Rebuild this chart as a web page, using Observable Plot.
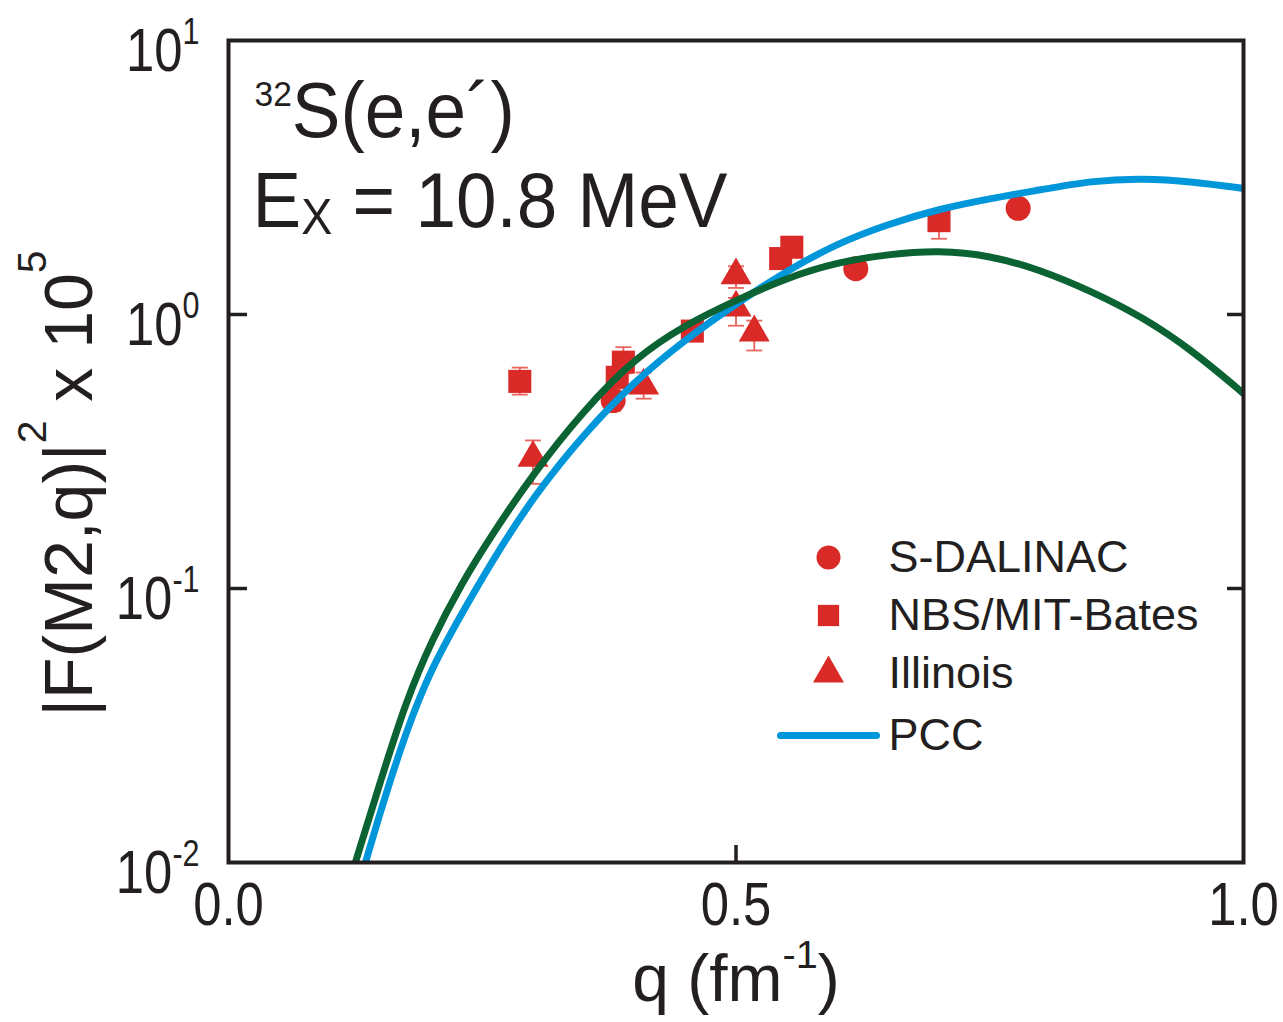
<!DOCTYPE html>
<html>
<head>
<meta charset="utf-8">
<script src="https://cdn.jsdelivr.net/npm/d3@7"></script>
<script src="https://cdn.jsdelivr.net/npm/@observablehq/plot@0.6"></script>
<style>
  html, body { margin: 0; padding: 0; background: #fff; }
  svg { display: block; }
  text { white-space: pre; }
</style>
</head>
<body>
<div id="chart"></div>
<script>
// ---------- data ----------
// S-DALINAC (circles)
const sdalQ  = [0.379, 0.618, 0.778];
const sdalY  = [0.485, 1.47, 2.44];
const sdalLo = [0.445, 1.40, 2.35];
const sdalHi = [0.530, 1.55, 2.55];
// NBS/MIT-Bates (squares)
const nbsQ  = [0.287, 0.383, 0.389, 0.457, 0.544, 0.555, 0.700];
const nbsY  = [0.57, 0.59, 0.67, 0.87, 1.60, 1.76, 2.20];
const nbsLo = [0.51, 0.54, 0.61, 0.82, 1.50, 1.66, 1.89];
const nbsHi = [0.64, 0.64, 0.76, 0.92, 1.70, 1.85, 2.35];
// Illinois (triangles)
const illQ  = [0.300, 0.409, 0.500, 0.500, 0.518];
const illY  = [0.30, 0.55, 1.39, 1.06, 0.86];
const illLo = [0.241, 0.493, 1.25, 0.91, 0.739];
const illHi = [0.347, 0.614, 1.50, 1.15, 0.95];
// PCC calculation (blue)
const pccQ = [0.135, 0.15, 0.175, 0.2, 0.23, 0.26, 0.3, 0.35, 0.4, 0.45, 0.5, 0.55, 0.6, 0.65, 0.7, 0.75, 0.8, 0.85, 0.9, 0.95, 1.0];
const pccY = [0.0100, 0.0155, 0.0302, 0.0513, 0.0813, 0.1265, 0.2158, 0.3664, 0.5702, 0.811, 1.094, 1.445, 1.820, 2.138, 2.427, 2.649, 2.851, 3.076, 3.141, 3.055, 2.884];
// second calculation (green, not in legend)
const altQ = [0.125, 0.15, 0.175, 0.2, 0.23, 0.26, 0.3, 0.35, 0.4, 0.45, 0.5, 0.55, 0.6, 0.65, 0.7, 0.75, 0.8, 0.85, 0.9, 0.95, 1.0];
const altY = [0.0100, 0.01995, 0.0389, 0.0646, 0.105, 0.158, 0.262, 0.447, 0.693, 0.918, 1.127, 1.361, 1.552, 1.660, 1.714, 1.644, 1.455, 1.216, 0.982, 0.738, 0.515];

const xTicks = [0, 0.5, 1.0];
const yTicks = [10, 1, 0.1, 0.01];
const yInnerTicks = [1, 0.1];
const xInnerTicks = [0.5];

const legendLabels = ["S-DALINAC", "NBS/MIT-Bates", "Illinois", "PCC"];
const annot1 = "^{32}S(e,e´)";
const annot2 = "E_{X} = 10.8 MeV";
const xLabel = "q (fm^{-1})";
const yLabel = "|F(M2,q)|^{2} x 10^{5}";

// ---------- tables ----------
const mk = (Q, Y, Lo, Hi) => Q.map((q, i) => ({q, y: Y[i], lo: Lo[i], hi: Hi[i]}));
const sdal = mk(sdalQ, sdalY, sdalLo, sdalHi);
const nbs = mk(nbsQ, nbsY, nbsLo, nbsHi);
const ill = mk(illQ, illY, illLo, illHi);
const allPts = [...sdal, ...nbs, ...ill];
const pcc = pccQ.map((q, i) => ({q, y: pccY[i]}));
const alt = altQ.map((q, i) => ({q, y: altY[i]}));

// ---------- styles ----------
const RED = "#da2a27", ERR = "#e8665e", BLUE = "#0096da", GREEN = "#0b6334", INK = "#231f20";
const capSymbol = {draw(ctx, size) { const w = Math.sqrt(size / Math.PI); ctx.moveTo(-w, 0); ctx.lineTo(w, 0); }};
const W = 1283, H = 1022, ML = 228, MR = 40, MT = 40, MB = 160;
const FW = W - ML - MR, FH = H - MT - MB;

const legendRows = [517, 575, 633, 695];

const chart = Plot.plot({
  width: W, height: H,
  marginLeft: ML, marginRight: MR, marginTop: MT, marginBottom: MB,
  style: {fontFamily: "'Liberation Sans', Arial, Helvetica, sans-serif", background: "#fff", color: INK},
  x: {domain: [0, 1], axis: null},
  y: {type: "log", domain: [0.01, 10], axis: null},
  marks: [
    // error bars
    Plot.ruleX(allPts, {x: "q", y1: "lo", y2: "hi", stroke: ERR, strokeWidth: 1.8}),
    Plot.dot(allPts, {x: "q", y: "lo", symbol: capSymbol, r: 8, fill: "none", stroke: ERR, strokeWidth: 1.8}),
    Plot.dot(allPts, {x: "q", y: "hi", symbol: capSymbol, r: 8, fill: "none", stroke: ERR, strokeWidth: 1.8}),
    // points
    Plot.dot(nbs, {x: "q", y: "y", symbol: "square", r: 13, fill: RED}),
    Plot.dot(ill, {x: "q", y: "y", symbol: "triangle", r: 11.5, fill: RED}),
    Plot.dot(sdal, {x: "q", y: "y", symbol: "circle", r: 12.5, fill: RED}),
    // curves
    Plot.line(pcc, {x: "q", y: "y", stroke: BLUE, strokeWidth: 7, curve: "basis", clip: true}),
    Plot.line(alt, {x: "q", y: "y", stroke: GREEN, strokeWidth: 7, curve: "basis", clip: true}),
    // frame and inward ticks
    Plot.frame({stroke: INK, strokeWidth: 4}),
    Plot.tickX(xInnerTicks, {x: d => d, insetTop: FH - 17, stroke: INK, strokeWidth: 3.5}),
    Plot.tickY(yInnerTicks, {y: d => d, insetRight: FW - 19, stroke: INK, strokeWidth: 3.5}),
    Plot.tickY(yInnerTicks, {y: d => d, insetLeft: FW - 16, stroke: INK, strokeWidth: 3.5}),
    // tick labels
    Plot.text(xTicks, {x: d => d, frameAnchor: "bottom", textAnchor: "middle", lineAnchor: "middle", dy: 43,
      text: d => d3.format(".1f")(d), fontSize: 62, fill: INK, ariaDescription: "xtick"}),
    Plot.text(yTicks, {y: d => d, frameAnchor: "left", textAnchor: "end", lineAnchor: "middle", dx: -29, dy: 11,
      text: d => `10^{${Math.round(Math.log10(d))}}`, fontSize: 62, fill: INK, ariaDescription: "ytick"}),
    // axis labels
    Plot.text([xLabel], {frameAnchor: "bottom", textAnchor: "middle", lineAnchor: "middle", dy: 117, text: d => d, fontSize: 66, fill: INK}),
    Plot.text([yLabel], {frameAnchor: "left", textAnchor: "middle", lineAnchor: "middle", dx: -158, dy: 32, rotate: -90, text: d => d, fontSize: 68, fill: INK}),
    // annotations
    Plot.text([annot1], {frameAnchor: "top-left", textAnchor: "start", lineAnchor: "middle", dx: 26, dy: 72, text: d => d, fontSize: 78, fill: INK, ariaDescription: "annot"}),
    Plot.text([annot2], {frameAnchor: "top-left", textAnchor: "start", lineAnchor: "middle", dx: 24, dy: 162, text: d => d, fontSize: 78, fill: INK, ariaDescription: "annot"}),
    // legend
    Plot.dot([null], {frameAnchor: "top-left", dx: 600, dy: legendRows[0], symbol: "circle", r: 12, fill: RED}),
    Plot.dot([null], {frameAnchor: "top-left", dx: 600, dy: legendRows[1], symbol: "square", r: 12, fill: RED}),
    Plot.dot([null], {frameAnchor: "top-left", dx: 600, dy: legendRows[2], symbol: "triangle", r: 11.5, fill: RED}),
    Plot.dot([null], {frameAnchor: "top-left", dx: 600, dy: legendRows[3], symbol: capSymbol, r: 48, fill: "none", stroke: BLUE, strokeWidth: 7, strokeLinecap: "round"}),
    ...legendLabels.map((lab, i) => Plot.text([lab], {frameAnchor: "top-left", textAnchor: "start", lineAnchor: "middle", dx: 660, dy: legendRows[i], text: d => d, fontSize: 45, fill: INK}))
  ]
});

document.getElementById("chart").appendChild(chart);

// ---------- superscript / subscript rendering ----------
const richSpec = {
  [yLabel]: {sup: [0.6, -0.68]},
  [annot1]: {sup: [0.46, -0.40]},
  [annot2]: {sub: [0.64, 0.08]},
  [xLabel]: {sup: [0.6, -0.5]}
};
function richify(svg) {
  svg.querySelectorAll("text").forEach(el => {
    const src = el.textContent;
    if (!/[\^_]\{/.test(src)) return;
    const spec = Object.assign({sup: [0.6, -0.44], sub: [0.68, 0.1]}, richSpec[src] || {});
    const fs = parseFloat(getComputedStyle(el).fontSize);
    let base = 0;
    const d = el.getAttribute("dy");
    if (d) { base = d.endsWith("em") ? parseFloat(d) * fs : parseFloat(d); el.removeAttribute("dy"); }
    el.textContent = "";
    const re = /([\^_])\{([^}]*)\}/g;
    const segs = []; let last = 0, m;
    while ((m = re.exec(src))) {
      if (m.index > last) segs.push({t: src.slice(last, m.index)});
      segs.push({t: m[2], k: m[1] === "^" ? "sup" : "sub"});
      last = re.lastIndex;
    }
    if (last < src.length) segs.push({t: src.slice(last)});
    let cur = 0, first = true;
    segs.forEach(s => {
      const ts = document.createElementNS("http://www.w3.org/2000/svg", "tspan");
      const target = s.k ? spec[s.k][1] * fs : 0;
      let dy = target - cur; cur = target;
      if (first) { dy += base; first = false; }
      if (dy) ts.setAttribute("dy", dy);
      if (s.k) ts.setAttribute("font-size", spec[s.k][0] * fs);
      ts.textContent = s.t;
      el.appendChild(ts);
    });
  });
}
richify(chart);

// horizontally condensed lettering, as in the original figure
const squeeze = {xtick: 0.82, ytick: 0.82, annot: 0.935};
Object.entries(squeeze).forEach(([label, k]) => {
  chart.querySelectorAll(`[aria-description="${label}"] text, text[aria-description="${label}"]`).forEach(el => {
    el.setAttribute("transform", (el.getAttribute("transform") || "") + ` scale(${k},1)`);
  });
});
</script>
</body>
</html>
